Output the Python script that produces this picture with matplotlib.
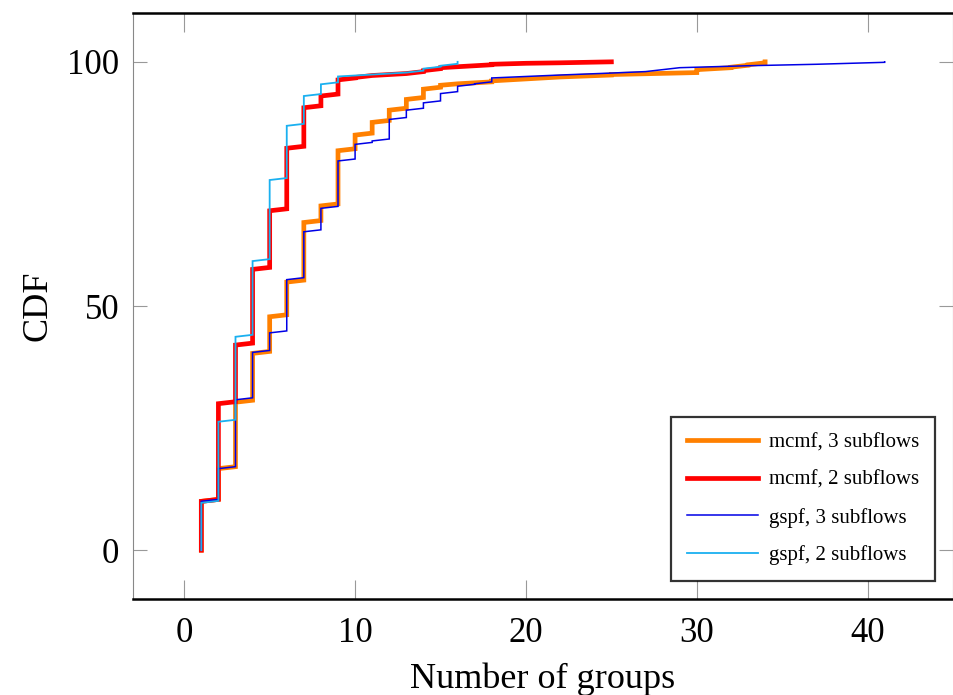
import matplotlib
matplotlib.use("Agg")
import matplotlib.pyplot as plt

plt.rcParams['font.family'] = ['Liberation Serif', 'DejaVu Serif']

# number of groups (distinct values) and CDF in percent after each value
x_mcmf3 = [1, 2, 3, 4, 5, 6, 7, 8, 9, 10, 11, 12, 13, 14, 15, 16, 18, 20, 22, 25, 30, 32, 33, 34]
cdf_mcmf3 = [10, 16.7, 30.3, 40.3, 47.8, 54.9, 67.1, 70.5, 81.8, 85, 87.6, 90.1, 92.3, 94.4,
             95.2, 95.5, 96.1, 96.5, 96.9, 97.4, 98.4, 98.9, 99.4, 100]

x_mcmf2 = [1, 2, 3, 4, 5, 6, 7, 8, 9, 10, 11, 12, 13, 14, 15, 16, 18, 20, 22, 25]
cdf_mcmf2 = [10, 30, 42, 57.5, 69.5, 82.3, 90.6, 93, 96.3, 96.8, 97.2, 97.4, 97.6, 98.2,
             98.8, 99, 99.5, 99.7, 99.8, 100]

x_gspf3 = [1, 2, 3, 4, 5, 6, 7, 8, 9, 10, 11, 12, 13, 14, 15, 16, 17, 18, 20, 22, 25, 27,
           28, 29, 33, 37, 41]
cdf_gspf3 = [10, 16.7, 30.8, 40.5, 44.5, 55.4, 65.2, 70, 79.7, 83.1, 83.8, 88.2, 90.1, 91.6,
             93.5, 95, 95.5, 96.7, 97, 97.3, 97.7, 98, 98.4, 98.8, 99.2, 99.5, 100]

x_gspf2 = [1, 2, 3, 4, 5, 6, 7, 8, 9, 10, 11, 12, 13, 14, 15, 16]
cdf_gspf2 = [9.7, 26.3, 43.7, 59.2, 75.8, 86.9, 93, 95.4, 97, 97.2, 97.4, 97.6, 97.8, 98.6,
             99.2, 100]

labels = ['mcmf, 3 subflows', 'mcmf, 2 subflows', 'gspf, 3 subflows', 'gspf, 2 subflows']


def cdf_path(xs, cdf, d=0.4):
    # line through sorted samples: vertical at a value, slight rise between values
    px, py = [], []
    prev = 0
    for x, c in zip(xs, cdf):
        lo = prev + d if prev > 0 else 0
        if c > lo:
            px.append(x)
            py.append(lo)
        px.append(x)
        py.append(c)
        prev = c
    return px, py


fig = plt.figure(figsize=(9.54, 6.95), dpi=100)
ax = fig.add_axes([0.1394, 0.1381, 0.8596, 0.8432])

styles = [('#FF8000', 3.4), ('#FF0000', 3.4), ('#0000E6', 1.1), ('#1AB0F0', 1.3)]
series = [(x_mcmf3, cdf_mcmf3), (x_mcmf2, cdf_mcmf2), (x_gspf3, cdf_gspf3), (x_gspf2, cdf_gspf2)]
for (xs, cs), (col, lw), lab in zip(series, styles, labels):
    px, py = cdf_path(xs, cs)
    ax.plot(px, py, color=col, lw=lw, label=lab, solid_joinstyle='miter')

ax.set_xlim(-3, 45)
ax.set_ylim(-10, 110)
ax.set_xticks([0, 10, 20, 30, 40])
ax.set_yticks([0, 50, 100])

ax.tick_params(axis='x', direction='in', top=True, length=14, width=0.8, color='#999999',
               labelsize=25, pad=13)
ax.tick_params(axis='y', direction='in', right=True, length=10, width=0.8, color='#999999',
               labelsize=25, pad=10)

for s in ['top', 'bottom']:
    ax.spines[s].set_linewidth(1.8)
    ax.spines[s].set_color('black')
for s in ['left', 'right']:
    ax.spines[s].set_linewidth(0.8)
    ax.spines[s].set_color('#888888')

ax.set_xlabel('Number of groups', fontsize=26, labelpad=9)
ax.set_ylabel('CDF', fontsize=26, labelpad=9)

leg = ax.legend(loc='lower right', fontsize=15, frameon=True, fancybox=False,
                edgecolor='black', borderpad=0.75, labelspacing=0.85, handlelength=3.4,
                handletextpad=0.55, borderaxespad=0, bbox_to_anchor=(0.978, 0.031))
leg.get_frame().set_linewidth(1.6)

fig.savefig('out.png', dpi=100)
